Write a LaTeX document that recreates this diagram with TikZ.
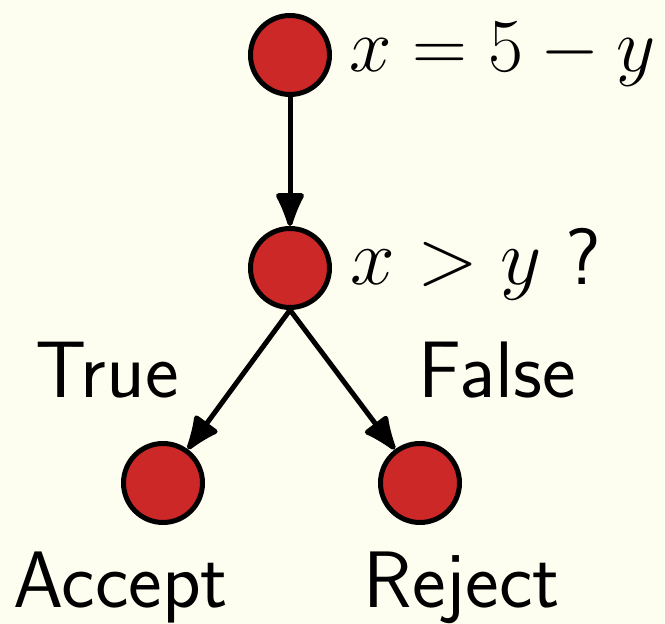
\documentclass[tikz,border=0pt]{standalone}
\usetikzlibrary{arrows.meta}
\definecolor{bg}{RGB}{254,254,240}
\definecolor{nodered}{RGB}{204,40,40}
\newcommand{\bigtxt}[1]{\scalebox{1.61}{\Huge #1}}
\newcommand{\mathtxt}[1]{\scalebox{1.53}{\Huge #1}}
\begin{document}
\begin{tikzpicture}[x=0.5pt,y=-0.5pt,
  dot/.style={circle,draw=black,fill=nodered,line width=2.5pt,minimum size=39.5pt,inner sep=0pt},
  txt/.style={inner sep=0pt},
  conn/.style={line width=2.5pt,-{Latex[length=20pt,width=16pt,round]}}]
\fill[bg] (0,0) rectangle (665,624);
\useasboundingbox (0,0) rectangle (665,624);
\node[dot] (a) at (290,55) {};
\node[dot] (b) at (290,268) {};
\node[dot] (c) at (163,483) {};
\node[dot] (d) at (420,483) {};
\node[txt,anchor=base west] (la) at (349,72) {\mathtxt{$x = 5 - y$}};
\node[txt,anchor=base west] (lb) at (350,285) {\bigtxt{$x > y$ \sffamily ?}};
\node[txt,anchor=base] (lt) at (107,398) {\bigtxt{\sffamily True}};
\node[txt,anchor=base] (lf) at (497,398) {\bigtxt{\sffamily False}};
\node[txt,anchor=base] (lc) at (121,608) {\bigtxt{\sffamily Accept}};
\node[txt,anchor=base] (ld) at (462,608) {\bigtxt{\sffamily Reject}};
\draw[conn] (a) -- (b);
\draw[conn] (b.south) -- (c);
\draw[conn] (b.south) -- (d);
\end{tikzpicture}
\end{document}
